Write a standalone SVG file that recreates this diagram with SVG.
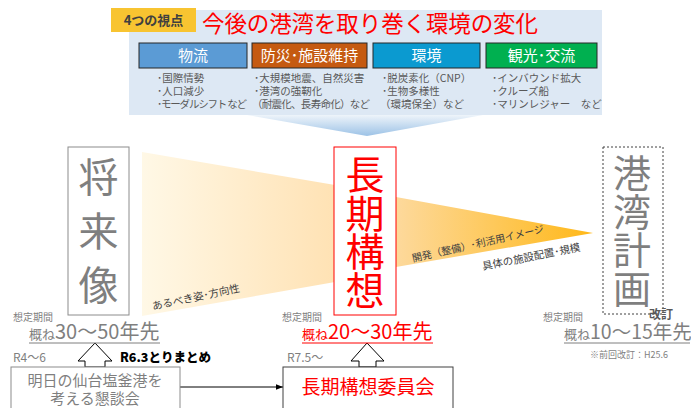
<svg xmlns="http://www.w3.org/2000/svg" width="691" height="408" viewBox="0 0 691 408">
<defs>
<linearGradient id="gL" x1="0" y1="0" x2="1" y2="0"><stop offset="0" stop-color="#fff8e6"/><stop offset="1" stop-color="#ffe2b4"/></linearGradient>
<linearGradient id="gR" x1="0" y1="0" x2="1" y2="0"><stop offset="0" stop-color="#fdd99c"/><stop offset="1" stop-color="#ffb818"/></linearGradient>
<linearGradient id="gT" x1="0" y1="0" x2="0" y2="1"><stop offset="0" stop-color="#eef4fa"/><stop offset="1" stop-color="#9cc2e6"/></linearGradient>
<marker id="ah" viewBox="0 0 10 10" refX="10" refY="5" markerWidth="7" markerHeight="7" orient="auto"><path d="M0,1 L10,5 L0,9 z" fill="#000"/></marker>
<style>
text{font-family:"Noto Sans CJK JP","Noto Sans",sans-serif}
.g{fill:#7f7f7f}
.b{fill:#595959;font-size:10.5px}
.cat{fill:#fff;font-size:15px;text-anchor:middle}
.v{writing-mode:tb;glyph-orientation-vertical:0}
.sm{fill:#7f7f7f;font-size:10px}
.r{fill:#ff0000}
</style>
</defs>
<g id="panel">
<rect x="129" y="10" width="473" height="105" fill="#dde8f4"/>
<polygon points="247,115 483,115 367,136" fill="url(#gT)"/>
<rect x="111" y="8" width="85" height="24" fill="#f8c431"/>
<text x="153.5" y="25" text-anchor="middle" style="font-size:13px;font-weight:bold;fill:#404040">4つの視点</text>
<text x="202" y="32" class="r" style="font-size:22.5px" textLength="336">今後の港湾を取り巻く環境の変化</text>
</g>
<g id="cat-butsuryu">
<rect x="139" y="43" width="108" height="25" fill="#5b9bd5" stroke="#262626" stroke-width="1"/>
<text x="193" y="61" class="cat">物流</text>
<text class="b"><tspan x="157" y="82">･国際情勢</tspan><tspan x="157" y="95">･人口減少</tspan><tspan x="157" y="108" textLength="90">･モーダルシフト など</tspan></text>
</g>
<g id="cat-bousai">
<rect x="252" y="43" width="115" height="25" fill="#c55a11" stroke="#262626" stroke-width="1"/>
<text x="309.5" y="61" class="cat">防災･施設維持</text>
<text class="b"><tspan x="254" y="82">･大規模地震、自然災害</tspan><tspan x="254" y="95">･港湾の強靭化</tspan><tspan x="252" y="108" textLength="118">（耐震化、長寿命化）など</tspan></text>
</g>
<g id="cat-kankyo">
<rect x="373" y="43" width="107" height="25" fill="#0b9ad0" stroke="#262626" stroke-width="1"/>
<text x="426.5" y="61" class="cat">環境</text>
<text class="b"><tspan x="382" y="82">･脱炭素化（CNP）</tspan><tspan x="382" y="95">･生物多様性</tspan><tspan x="380" y="108">（環境保全）など</tspan></text>
</g>
<g id="cat-kanko">
<rect x="486" y="43" width="111" height="25" fill="#00b050" stroke="#262626" stroke-width="1"/>
<text x="541.5" y="61" class="cat">観光･交流</text>
<text class="b"><tspan x="492" y="82">･インバウンド拡大</tspan><tspan x="492" y="95">･クルーズ船</tspan><tspan x="492" y="108">･マリンレジャー　など</tspan></text>
</g>
<g id="connectors">
<polygon points="142,152 335,185 335,282 142,316" fill="url(#gL)"/>
<polygon points="396,197 593,233 396,267" fill="url(#gR)"/>
<text transform="translate(153,310) rotate(-12)" style="font-size:10.5px;fill:#404040">あるべき姿･方向性</text>
<text transform="translate(413,262) rotate(-12.8)" style="font-size:10px;fill:#404040">開発（整備）･利活用イメージ</text>
<text transform="translate(483,270) rotate(-11.2)" style="font-size:10.5px;fill:#404040">具体の施設配置･規模</text>
<polygon points="95,343 112,361 105,361 105,367 85,367 85,361 78,361" fill="#fff" stroke="#000" stroke-width="1"/>
<polygon points="367,343 384,361 376,361 376,367 359,367 359,361 351,361" fill="#fff" stroke="#000" stroke-width="1"/>
<line x1="180" y1="387" x2="283" y2="387" stroke="#000" stroke-width="1" marker-end="url(#ah)"/>
</g>
<g id="shoraizo">
<rect x="68" y="147" width="61" height="168" fill="#fff" stroke="#8c8c8c" stroke-width="1"/>
<text x="98.5" y="157" class="v g" style="font-size:40px;letter-spacing:14px">将来像</text>
<text class="g" style="font-size:13px"><tspan x="13" y="321" style="font-size:10px">想定期間</tspan><tspan x="29" y="339">概ね</tspan><tspan style="font-size:20px">30～50年先</tspan></text>
<line x1="29" y1="343" x2="160" y2="343" stroke="#7f7f7f" stroke-width="1"/>
<text x="13" y="362" class="g" style="font-size:12px">R4～6</text>
<text x="120" y="362" style="font-size:12.5px;font-weight:900;fill:#000">R6.3とりまとめ</text>
</g>
<g id="chokikoso">
<rect x="334" y="147" width="62" height="168" fill="#fff" stroke="#ff0000" stroke-width="1"/>
<text x="365" y="155" class="v r" style="font-size:39px;letter-spacing:-0.5px">長期構想</text>
<text class="r" style="font-size:13px"><tspan x="282" y="321" style="font-size:10px;fill:#7f7f7f">想定期間</tspan><tspan x="302" y="339">概ね</tspan><tspan style="font-size:20px">20～30年先</tspan></text>
<line x1="302" y1="343" x2="433" y2="343" stroke="#ff0000" stroke-width="1"/>
<text x="287" y="362" class="g" style="font-size:12px">R7.5～</text>
</g>
<g id="kowankeikaku">
<rect x="603" y="147" width="60" height="167" fill="#fff" stroke="#404040" stroke-width="1" stroke-dasharray="2,2"/>
<text x="632" y="154" class="v g" style="font-size:38px;letter-spacing:0.5px">港湾計画</text>
<text x="649" y="319" style="font-size:12px;font-weight:bold;fill:#595959">改訂</text>
<text class="g" style="font-size:13px"><tspan x="543" y="321" style="font-size:10px">想定期間</tspan><tspan x="564" y="339">概ね</tspan><tspan style="font-size:19.5px">10～15年先</tspan><tspan x="590" y="358" style="font-size:9px">※前回改訂：H25.6</tspan></text>
<line x1="564" y1="343" x2="690" y2="343" stroke="#7f7f7f" stroke-width="1"/>
</g>
<g id="kondankai">
<rect x="11" y="367" width="169" height="50" fill="#fff" stroke="#8c8c8c" stroke-width="1"/>
<text class="g" style="font-size:15px;text-anchor:middle"><tspan x="95" y="386">明日の仙台塩釜港を</tspan><tspan x="95" y="404">考える懇談会</tspan></text>
</g>
<g id="iinkai">
<rect x="283" y="367" width="170" height="50" fill="#fff" stroke="#404040" stroke-width="1"/>
<text x="368" y="394" class="r" style="font-size:19px;text-anchor:middle">長期構想委員会</text>
</g>
</svg>
